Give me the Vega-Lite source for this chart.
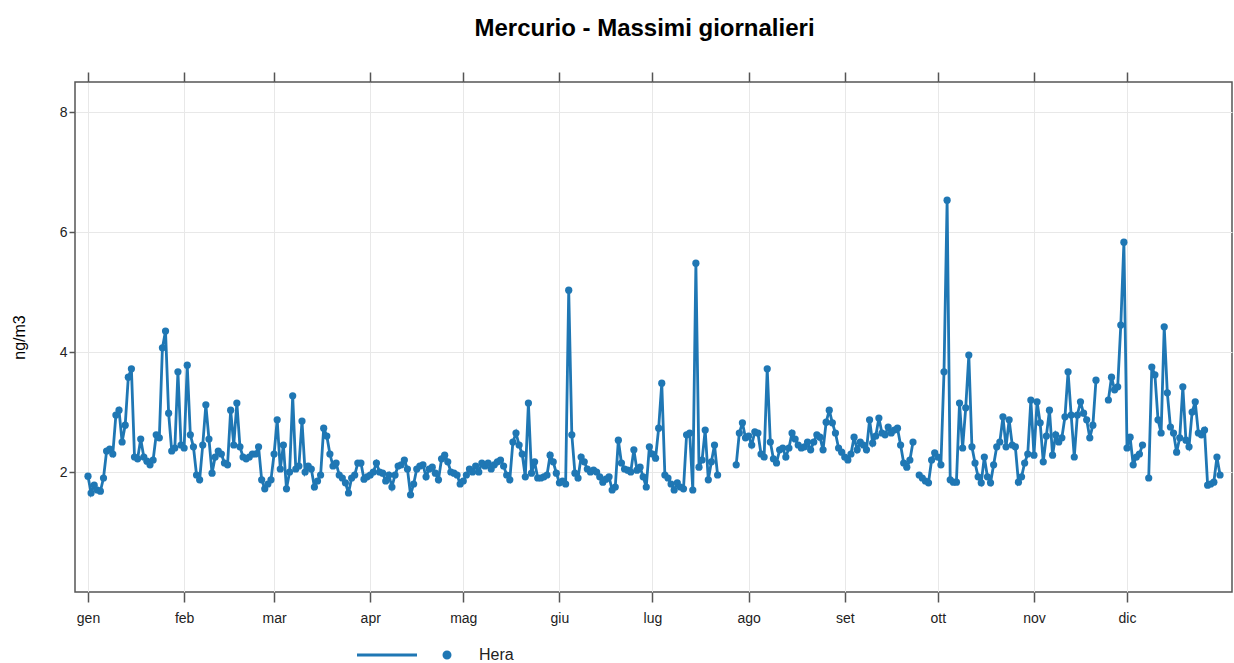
{
  "$schema": "https://vega.github.io/schema/vega-lite/v6.json",
  "width": 1157,
  "height": 510,
  "autosize": {"type": "none"},
  "padding": {"left": 75, "top": 82, "right": 2, "bottom": 71},
  "background": "white",
  "title": {
    "text": "Mercurio - Massimi giornalieri",
    "font": "Liberation Sans",
    "fontSize": 24,
    "fontWeight": "bold",
    "color": "#000000",
    "anchor": "middle",
    "dx": -9,
    "offset": 30
  },
  "config": {
    "font": "Liberation Sans",
    "view": {"stroke": "#555555", "strokeWidth": 1.5}
  },
  "data": {
    "values": [
      {"date": "2020-01-01", "value": 1.93}, {"date": "2020-01-02", "value": 1.65}, {"date": "2020-01-03", "value": 1.78}, {"date": "2020-01-04", "value": 1.70},
      {"date": "2020-01-05", "value": 1.68}, {"date": "2020-01-06", "value": 1.90}, {"date": "2020-01-07", "value": 2.35}, {"date": "2020-01-08", "value": 2.38},
      {"date": "2020-01-09", "value": 2.30}, {"date": "2020-01-10", "value": 2.95}, {"date": "2020-01-11", "value": 3.03}, {"date": "2020-01-12", "value": 2.50},
      {"date": "2020-01-13", "value": 2.78}, {"date": "2020-01-14", "value": 3.58}, {"date": "2020-01-15", "value": 3.72}, {"date": "2020-01-16", "value": 2.25},
      {"date": "2020-01-17", "value": 2.22}, {"date": "2020-01-18", "value": 2.55}, {"date": "2020-01-19", "value": 2.25}, {"date": "2020-01-20", "value": 2.18},
      {"date": "2020-01-21", "value": 2.12}, {"date": "2020-01-22", "value": 2.20}, {"date": "2020-01-23", "value": 2.62}, {"date": "2020-01-24", "value": 2.57},
      {"date": "2020-01-25", "value": 4.07}, {"date": "2020-01-26", "value": 4.35}, {"date": "2020-01-27", "value": 2.98}, {"date": "2020-01-28", "value": 2.35},
      {"date": "2020-01-29", "value": 2.40}, {"date": "2020-01-30", "value": 3.67}, {"date": "2020-01-31", "value": 2.45},
      {"date": "2020-02-01", "value": 2.40}, {"date": "2020-02-02", "value": 3.78}, {"date": "2020-02-03", "value": 2.62}, {"date": "2020-02-04", "value": 2.42},
      {"date": "2020-02-05", "value": 1.95}, {"date": "2020-02-06", "value": 1.87}, {"date": "2020-02-07", "value": 2.45}, {"date": "2020-02-08", "value": 3.12},
      {"date": "2020-02-09", "value": 2.55}, {"date": "2020-02-10", "value": 1.98}, {"date": "2020-02-11", "value": 2.25}, {"date": "2020-02-12", "value": 2.35},
      {"date": "2020-02-13", "value": 2.30}, {"date": "2020-02-14", "value": 2.15}, {"date": "2020-02-15", "value": 2.12}, {"date": "2020-02-16", "value": 3.03},
      {"date": "2020-02-17", "value": 2.45}, {"date": "2020-02-18", "value": 3.15}, {"date": "2020-02-19", "value": 2.42}, {"date": "2020-02-20", "value": 2.25},
      {"date": "2020-02-21", "value": 2.22}, {"date": "2020-02-22", "value": 2.25}, {"date": "2020-02-23", "value": 2.30}, {"date": "2020-02-24", "value": 2.30},
      {"date": "2020-02-25", "value": 2.42}, {"date": "2020-02-26", "value": 1.87}, {"date": "2020-02-27", "value": 1.72}, {"date": "2020-02-28", "value": 1.80},
      {"date": "2020-02-29", "value": 1.87},
      {"date": "2020-03-01", "value": 2.30}, {"date": "2020-03-02", "value": 2.87}, {"date": "2020-03-03", "value": 2.05}, {"date": "2020-03-04", "value": 2.45},
      {"date": "2020-03-05", "value": 1.72}, {"date": "2020-03-06", "value": 2.00}, {"date": "2020-03-07", "value": 3.27}, {"date": "2020-03-08", "value": 2.05},
      {"date": "2020-03-09", "value": 2.10}, {"date": "2020-03-10", "value": 2.85}, {"date": "2020-03-11", "value": 2.00}, {"date": "2020-03-12", "value": 2.10},
      {"date": "2020-03-13", "value": 2.05}, {"date": "2020-03-14", "value": 1.75}, {"date": "2020-03-15", "value": 1.85}, {"date": "2020-03-16", "value": 1.95},
      {"date": "2020-03-17", "value": 2.73}, {"date": "2020-03-18", "value": 2.60}, {"date": "2020-03-19", "value": 2.30}, {"date": "2020-03-20", "value": 2.10},
      {"date": "2020-03-21", "value": 2.15}, {"date": "2020-03-22", "value": 1.95}, {"date": "2020-03-23", "value": 1.90}, {"date": "2020-03-24", "value": 1.82},
      {"date": "2020-03-25", "value": 1.65}, {"date": "2020-03-26", "value": 1.90}, {"date": "2020-03-27", "value": 1.95}, {"date": "2020-03-28", "value": 2.15},
      {"date": "2020-03-29", "value": 2.15}, {"date": "2020-03-30", "value": 1.88}, {"date": "2020-03-31", "value": 1.92},
      {"date": "2020-04-01", "value": 1.95}, {"date": "2020-04-02", "value": 2.00}, {"date": "2020-04-03", "value": 2.15}, {"date": "2020-04-04", "value": 2.00},
      {"date": "2020-04-05", "value": 1.98}, {"date": "2020-04-06", "value": 1.85}, {"date": "2020-04-07", "value": 1.95}, {"date": "2020-04-08", "value": 1.75},
      {"date": "2020-04-09", "value": 1.95}, {"date": "2020-04-10", "value": 2.10}, {"date": "2020-04-11", "value": 2.12}, {"date": "2020-04-12", "value": 2.20},
      {"date": "2020-04-13", "value": 2.05}, {"date": "2020-04-14", "value": 1.62}, {"date": "2020-04-15", "value": 1.80}, {"date": "2020-04-16", "value": 2.05},
      {"date": "2020-04-17", "value": 2.10}, {"date": "2020-04-18", "value": 2.12}, {"date": "2020-04-19", "value": 1.92}, {"date": "2020-04-20", "value": 2.05},
      {"date": "2020-04-21", "value": 2.08}, {"date": "2020-04-22", "value": 1.98}, {"date": "2020-04-23", "value": 1.87}, {"date": "2020-04-24", "value": 2.22},
      {"date": "2020-04-25", "value": 2.28}, {"date": "2020-04-26", "value": 2.17}, {"date": "2020-04-27", "value": 2.00}, {"date": "2020-04-28", "value": 1.98},
      {"date": "2020-04-29", "value": 1.95}, {"date": "2020-04-30", "value": 1.80},
      {"date": "2020-05-01", "value": 1.85}, {"date": "2020-05-02", "value": 1.95}, {"date": "2020-05-03", "value": 2.05}, {"date": "2020-05-04", "value": 2.00},
      {"date": "2020-05-05", "value": 2.10}, {"date": "2020-05-06", "value": 2.00}, {"date": "2020-05-07", "value": 2.15}, {"date": "2020-05-08", "value": 2.10},
      {"date": "2020-05-09", "value": 2.15}, {"date": "2020-05-10", "value": 2.05}, {"date": "2020-05-11", "value": 2.12}, {"date": "2020-05-12", "value": 2.17},
      {"date": "2020-05-13", "value": 2.20}, {"date": "2020-05-14", "value": 2.10}, {"date": "2020-05-15", "value": 1.95}, {"date": "2020-05-16", "value": 1.87},
      {"date": "2020-05-17", "value": 2.50}, {"date": "2020-05-18", "value": 2.65}, {"date": "2020-05-19", "value": 2.45}, {"date": "2020-05-20", "value": 2.30},
      {"date": "2020-05-21", "value": 1.92}, {"date": "2020-05-22", "value": 3.15}, {"date": "2020-05-23", "value": 1.98}, {"date": "2020-05-24", "value": 2.17},
      {"date": "2020-05-25", "value": 1.90}, {"date": "2020-05-26", "value": 1.90}, {"date": "2020-05-27", "value": 1.92}, {"date": "2020-05-28", "value": 1.95},
      {"date": "2020-05-29", "value": 2.28}, {"date": "2020-05-30", "value": 2.17}, {"date": "2020-05-31", "value": 1.98},
      {"date": "2020-06-01", "value": 1.82}, {"date": "2020-06-02", "value": 1.85}, {"date": "2020-06-03", "value": 1.80}, {"date": "2020-06-04", "value": 5.03},
      {"date": "2020-06-05", "value": 2.62}, {"date": "2020-06-06", "value": 1.98}, {"date": "2020-06-07", "value": 1.90}, {"date": "2020-06-08", "value": 2.25},
      {"date": "2020-06-09", "value": 2.17}, {"date": "2020-06-10", "value": 2.05}, {"date": "2020-06-11", "value": 2.00}, {"date": "2020-06-12", "value": 2.03},
      {"date": "2020-06-13", "value": 2.00}, {"date": "2020-06-14", "value": 1.92}, {"date": "2020-06-15", "value": 1.83}, {"date": "2020-06-16", "value": 1.88},
      {"date": "2020-06-17", "value": 1.92}, {"date": "2020-06-18", "value": 1.70}, {"date": "2020-06-19", "value": 1.75}, {"date": "2020-06-20", "value": 2.53},
      {"date": "2020-06-21", "value": 2.15}, {"date": "2020-06-22", "value": 2.05}, {"date": "2020-06-23", "value": 2.03}, {"date": "2020-06-24", "value": 2.00},
      {"date": "2020-06-25", "value": 2.37}, {"date": "2020-06-26", "value": 2.03}, {"date": "2020-06-27", "value": 2.08}, {"date": "2020-06-28", "value": 1.92},
      {"date": "2020-06-29", "value": 1.75}, {"date": "2020-06-30", "value": 2.42},
      {"date": "2020-07-01", "value": 2.30}, {"date": "2020-07-02", "value": 2.23}, {"date": "2020-07-03", "value": 2.73}, {"date": "2020-07-04", "value": 3.48},
      {"date": "2020-07-05", "value": 1.95}, {"date": "2020-07-06", "value": 1.90}, {"date": "2020-07-07", "value": 1.80}, {"date": "2020-07-08", "value": 1.70},
      {"date": "2020-07-09", "value": 1.82}, {"date": "2020-07-10", "value": 1.75}, {"date": "2020-07-11", "value": 1.72}, {"date": "2020-07-12", "value": 2.62},
      {"date": "2020-07-13", "value": 2.65}, {"date": "2020-07-14", "value": 1.70}, {"date": "2020-07-15", "value": 5.48}, {"date": "2020-07-16", "value": 2.08},
      {"date": "2020-07-17", "value": 2.20}, {"date": "2020-07-18", "value": 2.70}, {"date": "2020-07-19", "value": 1.87}, {"date": "2020-07-20", "value": 2.17},
      {"date": "2020-07-21", "value": 2.45}, {"date": "2020-07-22", "value": 1.95}, {"date": "2020-07-23", "value": null}, {"date": "2020-07-24", "value": null},
      {"date": "2020-07-25", "value": null}, {"date": "2020-07-26", "value": null}, {"date": "2020-07-27", "value": null}, {"date": "2020-07-28", "value": 2.12},
      {"date": "2020-07-29", "value": 2.65}, {"date": "2020-07-30", "value": 2.82}, {"date": "2020-07-31", "value": 2.57},
      {"date": "2020-08-01", "value": 2.60}, {"date": "2020-08-02", "value": 2.45}, {"date": "2020-08-03", "value": 2.67}, {"date": "2020-08-04", "value": 2.65},
      {"date": "2020-08-05", "value": 2.30}, {"date": "2020-08-06", "value": 2.25}, {"date": "2020-08-07", "value": 3.72}, {"date": "2020-08-08", "value": 2.50},
      {"date": "2020-08-09", "value": 2.22}, {"date": "2020-08-10", "value": 2.15}, {"date": "2020-08-11", "value": 2.37}, {"date": "2020-08-12", "value": 2.40},
      {"date": "2020-08-13", "value": 2.25}, {"date": "2020-08-14", "value": 2.40}, {"date": "2020-08-15", "value": 2.65}, {"date": "2020-08-16", "value": 2.55},
      {"date": "2020-08-17", "value": 2.45}, {"date": "2020-08-18", "value": 2.40}, {"date": "2020-08-19", "value": 2.42}, {"date": "2020-08-20", "value": 2.50},
      {"date": "2020-08-21", "value": 2.37}, {"date": "2020-08-22", "value": 2.50}, {"date": "2020-08-23", "value": 2.62}, {"date": "2020-08-24", "value": 2.58},
      {"date": "2020-08-25", "value": 2.37}, {"date": "2020-08-26", "value": 2.83}, {"date": "2020-08-27", "value": 3.03}, {"date": "2020-08-28", "value": 2.82},
      {"date": "2020-08-29", "value": 2.65}, {"date": "2020-08-30", "value": 2.40}, {"date": "2020-08-31", "value": 2.33},
      {"date": "2020-09-01", "value": 2.25}, {"date": "2020-09-02", "value": 2.20}, {"date": "2020-09-03", "value": 2.30}, {"date": "2020-09-04", "value": 2.58},
      {"date": "2020-09-05", "value": 2.37}, {"date": "2020-09-06", "value": 2.50}, {"date": "2020-09-07", "value": 2.45}, {"date": "2020-09-08", "value": 2.37},
      {"date": "2020-09-09", "value": 2.87}, {"date": "2020-09-10", "value": 2.48}, {"date": "2020-09-11", "value": 2.60}, {"date": "2020-09-12", "value": 2.90},
      {"date": "2020-09-13", "value": 2.65}, {"date": "2020-09-14", "value": 2.62}, {"date": "2020-09-15", "value": 2.75}, {"date": "2020-09-16", "value": 2.65},
      {"date": "2020-09-17", "value": 2.70}, {"date": "2020-09-18", "value": 2.73}, {"date": "2020-09-19", "value": 2.45}, {"date": "2020-09-20", "value": 2.15},
      {"date": "2020-09-21", "value": 2.08}, {"date": "2020-09-22", "value": 2.20}, {"date": "2020-09-23", "value": 2.50}, {"date": "2020-09-24", "value": null},
      {"date": "2020-09-25", "value": 1.95}, {"date": "2020-09-26", "value": 1.90}, {"date": "2020-09-27", "value": 1.85}, {"date": "2020-09-28", "value": 1.82},
      {"date": "2020-09-29", "value": 2.20}, {"date": "2020-09-30", "value": 2.32},
      {"date": "2020-10-01", "value": 2.25}, {"date": "2020-10-02", "value": 2.12}, {"date": "2020-10-03", "value": 3.67}, {"date": "2020-10-04", "value": 6.53},
      {"date": "2020-10-05", "value": 1.87}, {"date": "2020-10-06", "value": 1.83}, {"date": "2020-10-07", "value": 1.83}, {"date": "2020-10-08", "value": 3.15},
      {"date": "2020-10-09", "value": 2.40}, {"date": "2020-10-10", "value": 3.07}, {"date": "2020-10-11", "value": 3.95}, {"date": "2020-10-12", "value": 2.42},
      {"date": "2020-10-13", "value": 2.15}, {"date": "2020-10-14", "value": 1.92}, {"date": "2020-10-15", "value": 1.82}, {"date": "2020-10-16", "value": 2.25},
      {"date": "2020-10-17", "value": 1.92}, {"date": "2020-10-18", "value": 1.82}, {"date": "2020-10-19", "value": 2.12}, {"date": "2020-10-20", "value": 2.42},
      {"date": "2020-10-21", "value": 2.50}, {"date": "2020-10-22", "value": 2.92}, {"date": "2020-10-23", "value": 2.42}, {"date": "2020-10-24", "value": 2.87},
      {"date": "2020-10-25", "value": 2.45}, {"date": "2020-10-26", "value": 2.42}, {"date": "2020-10-27", "value": 1.83}, {"date": "2020-10-28", "value": 1.92},
      {"date": "2020-10-29", "value": 2.15}, {"date": "2020-10-30", "value": 2.30}, {"date": "2020-10-31", "value": 3.20},
      {"date": "2020-11-01", "value": 2.28}, {"date": "2020-11-02", "value": 3.17}, {"date": "2020-11-03", "value": 2.82}, {"date": "2020-11-04", "value": 2.17},
      {"date": "2020-11-05", "value": 2.60}, {"date": "2020-11-06", "value": 3.03}, {"date": "2020-11-07", "value": 2.28}, {"date": "2020-11-08", "value": 2.62},
      {"date": "2020-11-09", "value": 2.50}, {"date": "2020-11-10", "value": 2.57}, {"date": "2020-11-11", "value": 2.92}, {"date": "2020-11-12", "value": 3.67},
      {"date": "2020-11-13", "value": 2.95}, {"date": "2020-11-14", "value": 2.25}, {"date": "2020-11-15", "value": 2.95}, {"date": "2020-11-16", "value": 3.17},
      {"date": "2020-11-17", "value": 2.98}, {"date": "2020-11-18", "value": 2.87}, {"date": "2020-11-19", "value": 2.57}, {"date": "2020-11-20", "value": 2.78},
      {"date": "2020-11-21", "value": 3.53}, {"date": "2020-11-22", "value": null}, {"date": "2020-11-23", "value": null}, {"date": "2020-11-24", "value": null},
      {"date": "2020-11-25", "value": 3.20}, {"date": "2020-11-26", "value": 3.58}, {"date": "2020-11-27", "value": 3.37}, {"date": "2020-11-28", "value": 3.42},
      {"date": "2020-11-29", "value": 4.45}, {"date": "2020-11-30", "value": 5.83},
      {"date": "2020-12-01", "value": 2.40}, {"date": "2020-12-02", "value": 2.58}, {"date": "2020-12-03", "value": 2.12}, {"date": "2020-12-04", "value": 2.25},
      {"date": "2020-12-05", "value": 2.30}, {"date": "2020-12-06", "value": 2.45}, {"date": "2020-12-07", "value": null}, {"date": "2020-12-08", "value": 1.90},
      {"date": "2020-12-09", "value": 3.75}, {"date": "2020-12-10", "value": 3.62}, {"date": "2020-12-11", "value": 2.87}, {"date": "2020-12-12", "value": 2.65},
      {"date": "2020-12-13", "value": 4.42}, {"date": "2020-12-14", "value": 3.32}, {"date": "2020-12-15", "value": 2.75}, {"date": "2020-12-16", "value": 2.65},
      {"date": "2020-12-17", "value": 2.33}, {"date": "2020-12-18", "value": 2.57}, {"date": "2020-12-19", "value": 3.42}, {"date": "2020-12-20", "value": 2.53},
      {"date": "2020-12-21", "value": 2.42}, {"date": "2020-12-22", "value": 3.00}, {"date": "2020-12-23", "value": 3.17}, {"date": "2020-12-24", "value": 2.65},
      {"date": "2020-12-25", "value": 2.62}, {"date": "2020-12-26", "value": 2.70}, {"date": "2020-12-27", "value": 1.78}, {"date": "2020-12-28", "value": 1.80},
      {"date": "2020-12-29", "value": 1.83}, {"date": "2020-12-30", "value": 2.25}, {"date": "2020-12-31", "value": 1.95}
    ]
  },
  "layer": [
    {
      "mark": {"type": "line", "strokeWidth": 2.8, "invalid": "break-paths-filter-domains"},
      "encoding": {
        "x": {
          "field": "date",
          "type": "temporal",
          "scale": {
            "type": "utc",
            "domain": [
              {"year": 2019, "month": 12, "date": 27, "hours": 19, "minutes": 30, "utc": true},
              {"year": 2021, "month": 1, "date": 3, "hours": 20, "minutes": 30, "utc": true}
            ]
          },
          "axis": {
            "orient": "bottom",
            "title": null,
            "values": [
              {"year": 2020, "month": 1, "date": 1, "utc": true}, {"year": 2020, "month": 2, "date": 1, "utc": true},
              {"year": 2020, "month": 3, "date": 1, "utc": true}, {"year": 2020, "month": 4, "date": 1, "utc": true},
              {"year": 2020, "month": 5, "date": 1, "utc": true}, {"year": 2020, "month": 6, "date": 1, "utc": true},
              {"year": 2020, "month": 7, "date": 1, "utc": true}, {"year": 2020, "month": 8, "date": 1, "utc": true},
              {"year": 2020, "month": 9, "date": 1, "utc": true}, {"year": 2020, "month": 10, "date": 1, "utc": true},
              {"year": 2020, "month": 11, "date": 1, "utc": true}, {"year": 2020, "month": 12, "date": 1, "utc": true}
            ],
            "labelExpr": "['gen','feb','mar','apr','mag','giu','lug','ago','set','ott','nov','dic'][utcmonth(datum.value)]",
            "domain": false,
            "grid": true,
            "gridColor": "#e8e8e8",
            "gridWidth": 1,
            "ticks": true,
            "tickColor": "#555555",
            "tickWidth": 1.5,
            "tickSize": 10,
            "labelPadding": 9,
            "labelFont": "Liberation Sans",
            "labelFontSize": 14,
            "labelColor": "#222222",
            "labelFlush": false,
            "labelOverlap": false
          }
        },
        "y": {
          "field": "value",
          "type": "quantitative",
          "scale": {"domain": [0, 8.5], "nice": false, "zero": false},
          "axis": {
            "title": "ng/m3",
            "titleFont": "Liberation Sans",
            "titleFontSize": 16,
            "titleFontWeight": "normal",
            "titleColor": "#000000",
            "titlePadding": 32,
            "values": [2, 4, 6, 8],
            "format": "d",
            "domain": false,
            "grid": true,
            "gridColor": "#e8e8e8",
            "gridWidth": 1,
            "tickColor": "#555555",
            "tickWidth": 1.5,
            "tickSize": 6,
            "labelPadding": 2,
            "labelFont": "Liberation Sans",
            "labelFontSize": 14,
            "labelColor": "#222222"
          }
        },
        "color": {
          "datum": "Hera",
          "type": "nominal",
          "scale": {"domain": ["Hera"], "range": ["#1f77b4"]},
          "legend": {
            "orient": "none",
            "legendX": 364,
            "legendY": 565,
            "title": null,
            "padding": 0,
            "symbolType": "M-15,0L-5,0M-0.5,0a0.5,0.5 0 1,0 1,0a0.5,0.5 0 1,0 -1,0Z",
            "symbolSize": 144,
            "symbolStrokeWidth": 3,
            "symbolFillColor": "#1f77b4",
            "symbolStrokeColor": "#1f77b4",
            "labelFont": "Liberation Sans",
            "labelFontSize": 16,
            "labelColor": "#222222",
            "labelOffset": 24
          }
        }
      }
    },
    {
      "mark": {"type": "point", "filled": true, "size": 52, "opacity": 1},
      "encoding": {
        "x": {
          "field": "date",
          "type": "temporal",
          "axis": {
            "orient": "top",
            "title": null,
            "labels": false,
            "grid": false,
            "domain": false,
            "values": [
              {"year": 2020, "month": 1, "date": 1, "utc": true}, {"year": 2020, "month": 2, "date": 1, "utc": true},
              {"year": 2020, "month": 3, "date": 1, "utc": true}, {"year": 2020, "month": 4, "date": 1, "utc": true},
              {"year": 2020, "month": 5, "date": 1, "utc": true}, {"year": 2020, "month": 6, "date": 1, "utc": true},
              {"year": 2020, "month": 7, "date": 1, "utc": true}, {"year": 2020, "month": 8, "date": 1, "utc": true},
              {"year": 2020, "month": 9, "date": 1, "utc": true}, {"year": 2020, "month": 10, "date": 1, "utc": true},
              {"year": 2020, "month": 11, "date": 1, "utc": true}, {"year": 2020, "month": 12, "date": 1, "utc": true}
            ],
            "tickColor": "#555555",
            "tickWidth": 1.5,
            "tickSize": 10
          }
        },
        "y": {"field": "value", "type": "quantitative"},
        "color": {"datum": "Hera", "type": "nominal"}
      }
    }
  ],
  "resolve": {"axis": {"x": "independent"}}
}
